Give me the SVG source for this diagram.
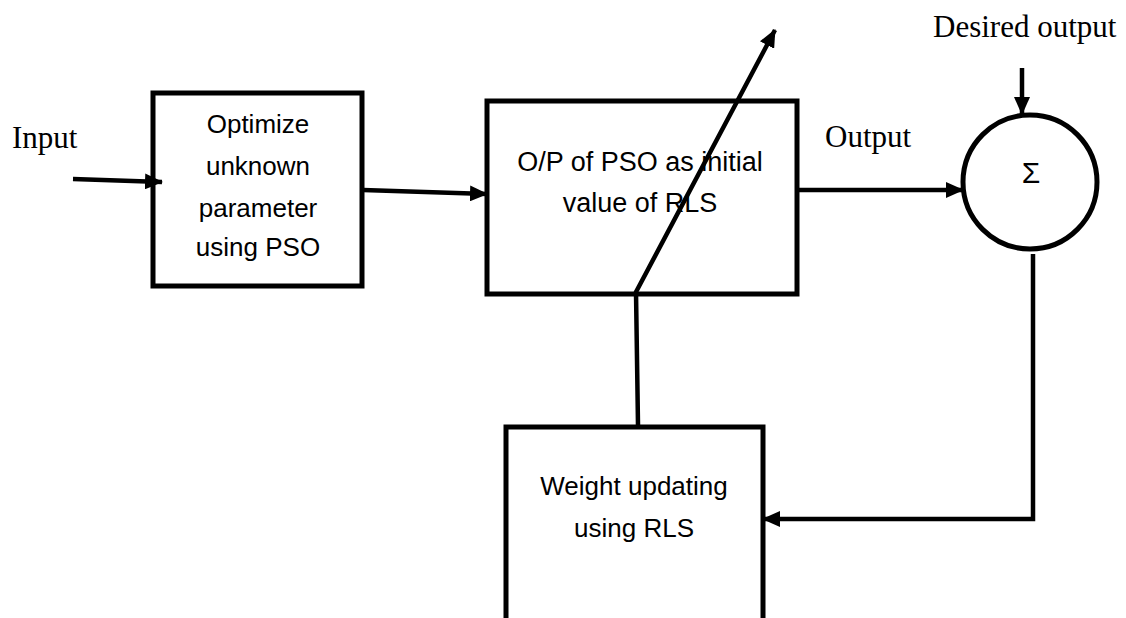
<svg xmlns="http://www.w3.org/2000/svg" width="1126" height="618" viewBox="0 0 1126 618">
<style>
.box{fill:#fff;stroke:#000;stroke-width:5}
.ln{fill:none;stroke:#000;stroke-width:4.5}
.t{font-family:"Liberation Sans",Arial,sans-serif;font-size:26px;text-anchor:middle;fill:#000}
.s{font-family:"Liberation Serif","Times New Roman",serif;font-size:31px;fill:#000}
</style>
<defs>
<marker id="ah" markerUnits="userSpaceOnUse" markerWidth="18" markerHeight="16" refX="17" refY="8" orient="auto">
<path d="M0,0 L18,8 L0,16 z" fill="#000"/>
</marker>
</defs>
<rect width="1126" height="618" fill="#fff"/>
<g id="n-pso">
<rect class="box" x="153" y="93" width="209" height="193"/>
<text class="t" x="258" y="133">Optimize</text>
<text class="t" x="258" y="175">unknown</text>
<text class="t" x="258" y="217">parameter</text>
<text class="t" x="258" y="256">using PSO</text>
</g>
<g id="n-rlsinit">
<rect class="box" x="487" y="101" width="310" height="193"/>
<text class="t" x="640" y="171" style="font-size:27px">O/P of PSO as initial</text>
<text class="t" x="640" y="212" style="font-size:27px">value of RLS</text>
</g>
<g id="n-weight">
<rect class="box" x="506" y="427" width="257" height="200"/>
<text class="t" x="634" y="495">Weight updating</text>
<text class="t" x="634" y="537">using RLS</text>
</g>
<g id="n-sum">
<circle cx="1030" cy="182" r="67" fill="#fff" stroke="#000" stroke-width="5"/>
<text class="t" x="1031" y="183" style="font-size:30px">Σ</text>
</g>
<g id="labels">
<text class="s" x="12" y="148">Input</text>
<text class="s" x="825" y="147">Output</text>
<text class="s" x="933" y="37">Desired output</text>
</g>
<g id="connectors">
<line class="ln" x1="73" y1="179" x2="162" y2="182" marker-end="url(#ah)"/>
<line class="ln" x1="363" y1="190" x2="487" y2="194" marker-end="url(#ah)"/>
<line class="ln" x1="797" y1="190" x2="963" y2="190" marker-end="url(#ah)"/>
<line class="ln" x1="1022" y1="68" x2="1022" y2="114" marker-end="url(#ah)"/>
<polyline class="ln" points="1033,254 1033,519 763,519" marker-end="url(#ah)"/>
<polyline class="ln" points="638,425 636,292 775,30" marker-end="url(#ah)"/>
</g>
</svg>
